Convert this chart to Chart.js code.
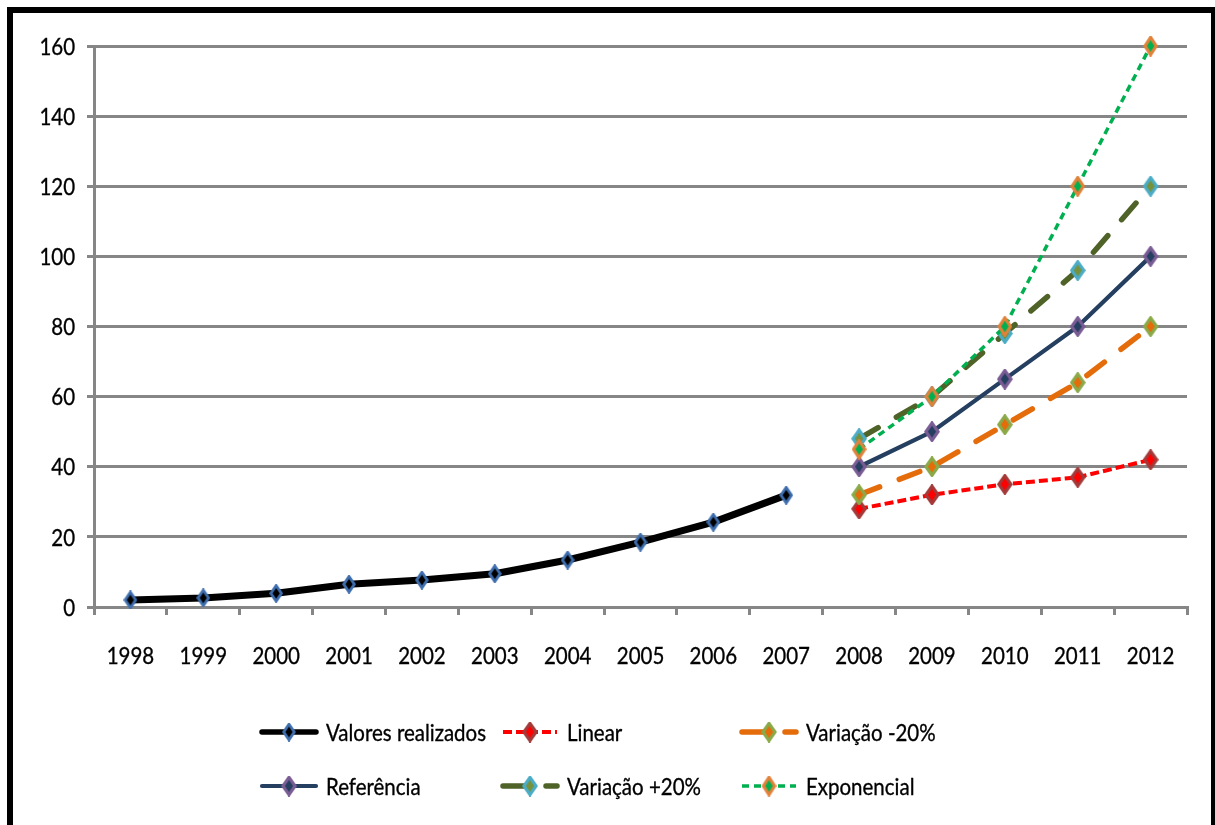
<!DOCTYPE html>
<html>
<head>
<meta charset="utf-8">
<script src="https://cdn.jsdelivr.net/npm/chart.js@4.4.1/dist/chart.umd.min.js"></script>
<style>
  html, body { margin: 0; padding: 0; background: #ffffff; overflow: hidden; }
  #wrap { position: relative; width: 1215px; height: 825px; }
  #frame { position: absolute; left: 7px; top: 7px; width: 1198px; height: 900px;
           border: 6px solid #000; pointer-events: none; }
  canvas { position: absolute; left: 0; top: 0; }
</style>
</head>
<body>
<div id="wrap">
  <canvas id="c" width="1215" height="825"></canvas>
  <div id="frame"></div>
</div>
<script>
const years = ['1998','1999','2000','2001','2002','2003','2004','2005','2006','2007','2008','2009','2010','2011','2012'];
const seriesNames = ['Valores realizados','Linear','Variação -20%','Referência','Variação +20%','Exponencial'];
const valoresRealizados = [2, 2.6, 3.9, 6.5, 7.7, 9.5, 13.4, 18.5, 24.2, 31.9, null, null, null, null, null];
const linear        = [null, null, null, null, null, null, null, null, null, null, 28, 32, 35, 37, 42];
const variacaoMenos = [null, null, null, null, null, null, null, null, null, null, 32, 40, 52, 64, 80];
const referencia    = [null, null, null, null, null, null, null, null, null, null, 40, 50, 65, 80, 100];
const variacaoMais  = [null, null, null, null, null, null, null, null, null, null, 48, 60, 78, 96, 120];
const exponencial   = [null, null, null, null, null, null, null, null, null, null, 45, 60, 80, 120, 160];
const yTicks = [0, 20, 40, 60, 80, 100, 120, 140, 160];

const FONT = "Lato, 'Open Sans', 'Liberation Sans', sans-serif";
const FONT_SIZE = 24;

// horizontal condensing factor so the humanist font matches the narrow look of the original
const measureCtx = document.createElement('canvas').getContext('2d');
measureCtx.font = FONT_SIZE + 'px ' + FONT;
const SX = 47.5 / measureCtx.measureText('1998').width;

function diamond(fill, stroke, w, h, lw) {
  const c = document.createElement('canvas');
  c.width = w; c.height = h;
  const x = c.getContext('2d');
  const m = lw / 2 + 0.3;
  x.beginPath();
  x.moveTo(w / 2, m);
  x.lineTo(w - m, h / 2);
  x.lineTo(w / 2, h - m);
  x.lineTo(m, h / 2);
  x.closePath();
  x.fillStyle = fill; x.fill();
  x.lineWidth = lw; x.strokeStyle = stroke; x.lineJoin = 'miter'; x.stroke();
  return c;
}

const styles = [
  { color: '#000000', width: 7,   dash: [],       cap: 'round', marker: diamond('#000000', '#3F6EAE', 14, 19, 2.8) },
  { color: '#FF0000', width: 4,   dash: [9, 4],   cap: 'butt',  marker: diamond('#FF0000', '#A33A3A', 16, 21, 3.2) },
  { color: '#E46C0A', width: 5.5, dash: [22, 21], cap: 'round', marker: diamond('#E46C0A', '#8AAA4A', 16, 21, 3.2) },
  { color: '#243F60', width: 4.2, dash: [],       cap: 'round', marker: diamond('#243F60', '#7A5C94', 16, 21, 3.2) },
  { color: '#4F6228', width: 5.5, dash: [22, 21], cap: 'round', marker: diamond('#76923C', '#4BACC6', 16, 21, 3.2) },
  { color: '#00B050', width: 3.5, dash: [7, 5],   cap: 'butt',  marker: diamond('#00B050', '#E0823A', 15, 21, 3.2) }
];
const seriesData = [valoresRealizados, linear, variacaoMenos, referencia, variacaoMais, exponencial];

const datasets = seriesData.map((d, i) => ({
  label: seriesNames[i],
  data: d,
  borderColor: styles[i].color,
  backgroundColor: styles[i].color,
  borderWidth: styles[i].width,
  borderDash: styles[i].dash,
  borderCapStyle: styles[i].cap,
  borderJoinStyle: 'round',
  pointStyle: styles[i].marker,
  pointRadius: 9,
  tension: 0,
  spanGaps: false,
  clip: false,
  order: 6 - i
}));

function condensedText(ctx, text, x, y, align) {
  ctx.save();
  ctx.translate(x, y);
  ctx.scale(SX, 1);
  ctx.textAlign = align;
  ctx.textBaseline = 'middle';
  ctx.fillText(text, 0, 0);
  ctx.lineWidth = 0.35;
  ctx.strokeStyle = '#000';
  ctx.strokeText(text, 0, 0);
  ctx.restore();
}

const labelsPlugin = {
  id: 'condensedLabels',
  afterDraw(chart) {
    const ctx = chart.ctx;
    ctx.save();
    ctx.fillStyle = '#000';
    ctx.font = FONT_SIZE + 'px ' + FONT;
    const xs = chart.scales.x;
    xs.ticks.forEach((t, i) => {
      condensedText(ctx, xs.getLabelForValue(t.value), xs.getPixelForTick(i), 656, 'center');
    });
    const ys = chart.scales.y;
    ys.ticks.forEach((t) => {
      condensedText(ctx, String(t.value), 75, ys.getPixelForValue(t.value) + 1, 'right');
    });
    const colX = [259, 500, 739];
    const rowY = [732, 786];
    chart.data.datasets.forEach((ds, i) => {
      const x = colX[i % 3], y = rowY[Math.floor(i / 3)];
      ctx.beginPath();
      ctx.setLineDash(ds.borderDash || []);
      ctx.lineWidth = Math.min(ds.borderWidth, 5.5);
      ctx.strokeStyle = ds.borderColor;
      ctx.lineCap = ds.borderCapStyle;
      ctx.moveTo(x + 3, y); ctx.lineTo(x + 57, y);
      ctx.stroke();
      ctx.setLineDash([]);
      const img = ds.pointStyle;
      ctx.drawImage(img, x + 30 - img.width / 2, y - img.height / 2);
      condensedText(ctx, ds.label, x + 67, y + 1, 'left');
    });
    ctx.restore();
  }
};

new Chart(document.getElementById('c'), {
  type: 'line',
  data: { labels: years, datasets },
  options: {
    responsive: false,
    animation: false,
    devicePixelRatio: 1,
    layout: { padding: { left: 0, right: 28, top: 46, bottom: 0 } },
    plugins: { legend: { display: false }, tooltip: { enabled: false } },
    scales: {
      x: {
        offset: true,
        grid: { offset: true, drawOnChartArea: false, drawTicks: true, tickLength: 8, color: '#868686', lineWidth: 3 },
        border: { display: true, color: '#868686', width: 3 },
        ticks: { display: false, autoSkip: false },
        afterFit(s) { s.height = 218; }
      },
      y: {
        min: 0, max: 160,
        afterBuildTicks(s) { s.ticks = yTicks.map(v => ({ value: v })); },
        grid: { color: '#868686', lineWidth: 3, drawTicks: true, tickLength: 7 },
        border: { display: true, color: '#868686', width: 3 },
        ticks: { display: false },
        afterFit(s) { s.width = 94; }
      }
    }
  },
  plugins: [labelsPlugin]
});
</script>
</body>
</html>
